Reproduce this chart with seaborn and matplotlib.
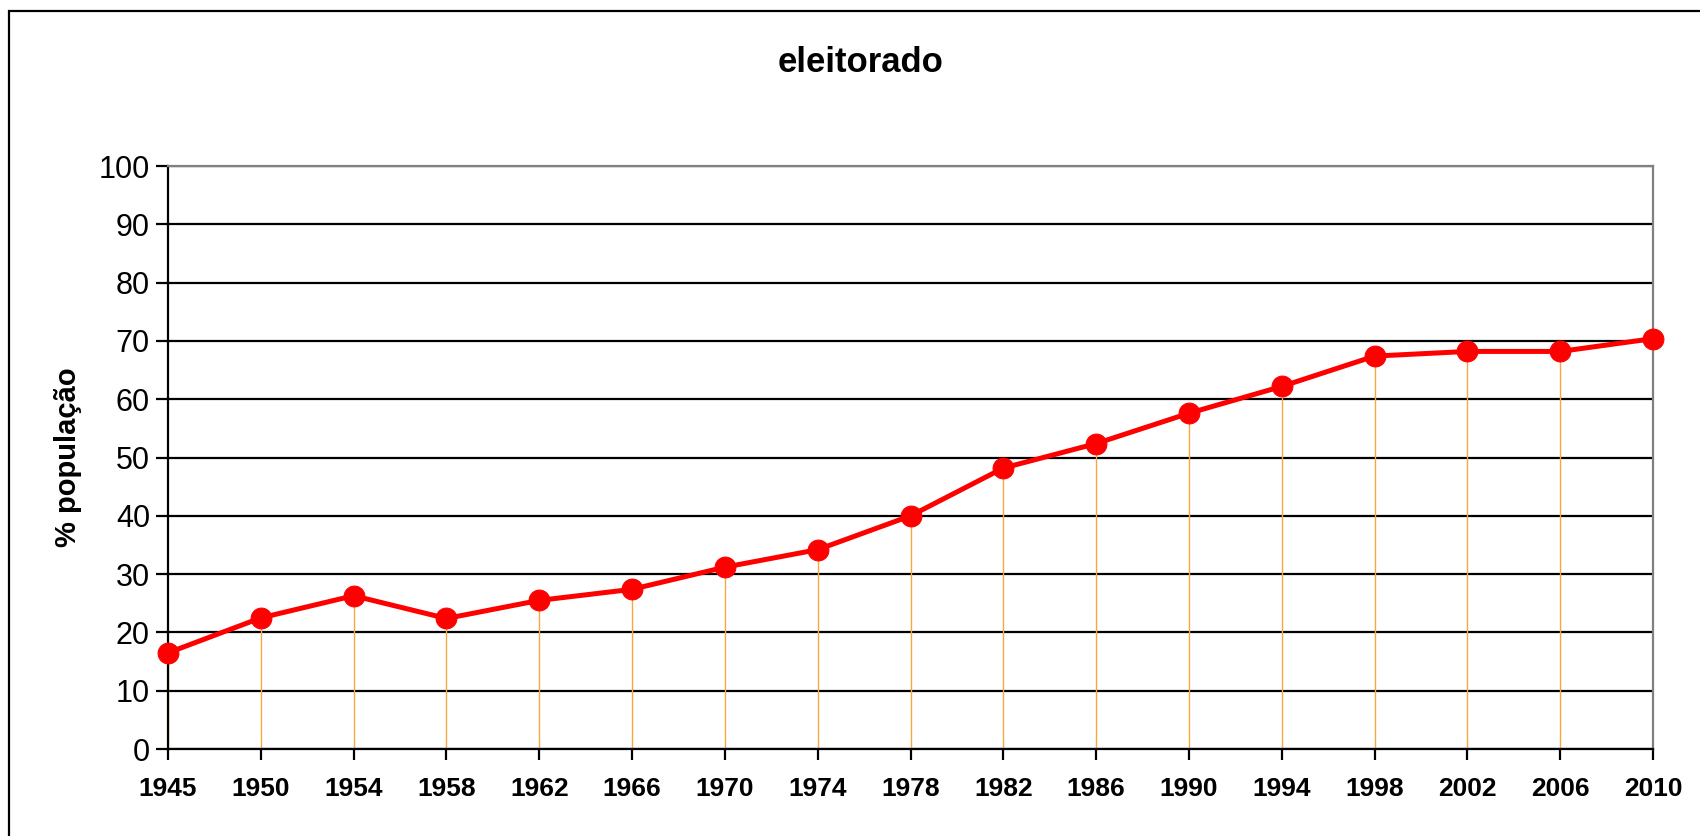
import numpy as np
import pandas as pd
import matplotlib
matplotlib.use("Agg")
import matplotlib.pyplot as plt
import seaborn as sns
from matplotlib.patches import Rectangle

# === Dados ===
anos = ['1945', '1950', '1954', '1958', '1962', '1966', '1970', '1974', '1978',
        '1982', '1986', '1990', '1994', '1998', '2002', '2006', '2010']
eleitorado = [16.5, 22.5, 26.3, 22.4, 25.5, 27.4, 31.2, 34.2, 40.0,
              48.2, 52.4, 57.6, 62.2, 67.4, 68.2, 68.2, 70.4]
y_ticks = [0, 10, 20, 30, 40, 50, 60, 70, 80, 90, 100]

df = pd.DataFrame({'ano': anos, 'pct': eleitorado})
df['pos'] = np.arange(len(anos))

sns.set_theme(style="white")
plt.rcParams['font.family'] = ['Liberation Sans', 'DejaVu Sans']
plt.rcParams['text.color'] = 'black'
plt.rcParams['axes.labelcolor'] = 'black'
plt.rcParams['xtick.color'] = 'black'
plt.rcParams['ytick.color'] = 'black'

fig = plt.figure(figsize=(17, 8.36), dpi=100)
ax = fig.add_axes([0.0988, 0.104, 0.8736, 0.6974])

# linhas verticais (laranja) até o eixo
ax.vlines(df['pos'], 0, df['pct'], color='#F5A742', linewidth=1.0, zorder=1)

sns.lineplot(data=df, x='pos', y='pct', ax=ax, color='#FF0000', linewidth=3.6,
             marker='o', markersize=15, markeredgecolor='#FF0000',
             clip_on=False, zorder=5)

ax.set_xlim(0, len(anos) - 1)
ax.set_ylim(0, 100)
ax.set_xticks(df['pos'])
ax.set_xticklabels(anos, fontsize=19, fontweight='bold')
ax.set_yticks(y_ticks)
ax.set_yticklabels([str(t) for t in y_ticks], fontsize=22)
ax.tick_params(axis='y', direction='out', length=9, width=1.6,
               left=True, pad=4)
ax.tick_params(axis='x', direction='out', length=8, width=1.6,
               bottom=True, pad=12)

ax.set_axisbelow(True)
ax.yaxis.grid(True, color='black', linewidth=1.6)
ax.xaxis.grid(False)

for side in ['left', 'bottom']:
    ax.spines[side].set_color('black')
    ax.spines[side].set_linewidth(1.6)
for side in ['top', 'right']:
    ax.spines[side].set_color('#808080')
    ax.spines[side].set_linewidth(1.6)

ax.set_xlabel('')
ax.set_ylabel('% população', fontsize=21, fontweight='bold', labelpad=12)
fig.text(0.506, 0.925, 'eleitorado', ha='center', va='center',
         fontsize=25, fontweight='bold')

# moldura externa
fig.patches.append(Rectangle((9 / 1700, -0.1), 1.2, 0.1 + (1 - 11 / 836),
                             transform=fig.transFigure, fill=False,
                             edgecolor='black', linewidth=1.6, zorder=10))

fig.savefig('out.png', dpi=100)
